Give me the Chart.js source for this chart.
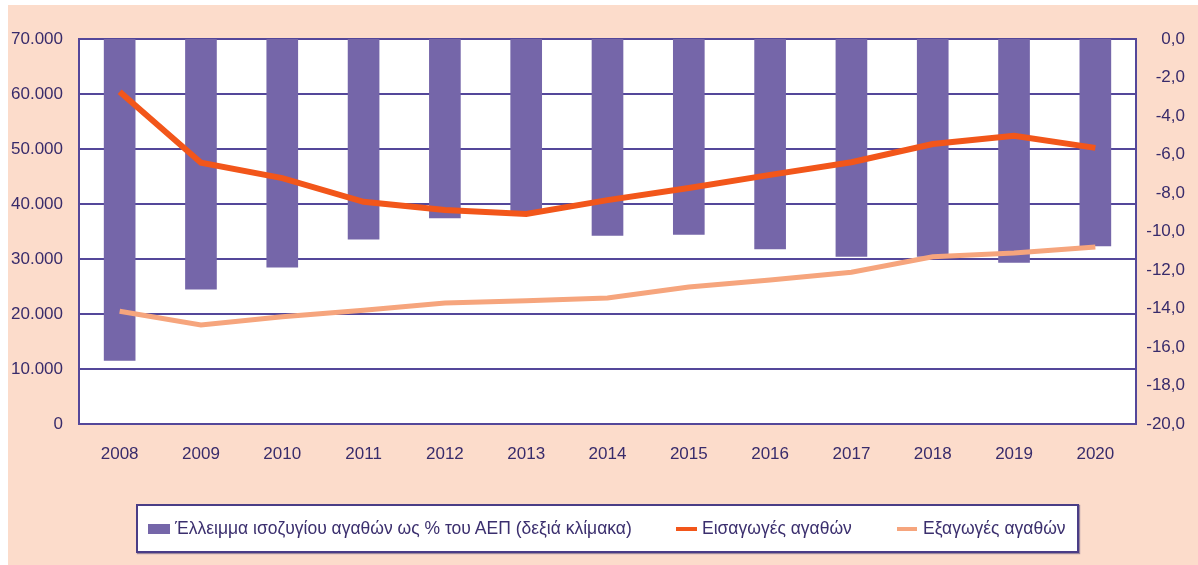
<!DOCTYPE html>
<html>
<head>
<meta charset="utf-8">
<script src="https://cdn.jsdelivr.net/npm/chart.js@4/dist/chart.umd.min.js"></script>
<style>
  body { margin: 0; background: #ffffff; }
  #wrap { position: absolute; left: 8px; top: 5px; width: 1190px; height: 560px; background: #fcdccb; }
  #chart { position: absolute; left: 0; top: 0; }
  #legend {
    position: absolute; left: 128px; top: 499px; width: 943px; height: 49px;
    box-sizing: border-box; background: #fff; border: 2px solid #4a3d86;
    box-shadow: 1px 1px 1px rgba(60,50,110,0.5);
    font-family: "Liberation Sans", Arial, sans-serif; font-size: 17.5px; color: #3b2f6e;
  }
  .item { position: absolute; top: 0; height: 45px; display: flex; align-items: center; white-space: nowrap; }
  .mark { display: inline-block; }
</style>
</head>
<body>
<div id="wrap">
  <canvas id="chart" width="1190" height="560"></canvas>
  <div id="legend"></div>
</div>
<script>
const years = ['2008','2009','2010','2011','2012','2013','2014','2015','2016','2017','2018','2019','2020'];
// Έλλειμμα ισοζυγίου αγαθών ως % του ΑΕΠ (right scale)
const deficitPct = [-16.7, -13.0, -11.85, -10.4, -9.3, -9.0, -10.2, -10.15, -10.9, -11.3, -11.3, -11.6, -10.75];
// Εισαγωγές αγαθών
const imports = [60400, 47500, 44700, 40400, 38900, 38200, 40700, 42900, 45300, 47600, 50900, 52400, 50200];
// Εξαγωγές αγαθών
const exportsData = [20500, 18000, 19500, 20700, 22000, 22400, 22900, 24900, 26200, 27600, 30400, 31100, 32200];

const textColor = '#382b6b';
const gridColor = '#54479a';
const tickFont = { family: 'Liberation Sans, Arial, sans-serif', size: 17 };

const plotBg = {
  id: 'plotBg',
  beforeDraw(chart) {
    const a = chart.chartArea, ctx = chart.ctx;
    ctx.save();
    ctx.fillStyle = '#ffffff';
    ctx.fillRect(a.left, a.top, a.right - a.left, a.bottom - a.top);
    ctx.restore();
  }
};

const chart = new Chart(document.getElementById('chart'), {
  type: 'bar',
  data: {
    labels: years,
    datasets: [
      {
        type: 'line',
        label: 'Εισαγωγές αγαθών',
        data: imports,
        yAxisID: 'y',
        borderColor: '#f2561a',
        backgroundColor: '#f2561a',
        borderWidth: 6,
        pointRadius: 0,
        tension: 0,
        order: 1
      },
      {
        type: 'line',
        label: 'Εξαγωγές αγαθών',
        data: exportsData,
        yAxisID: 'y',
        borderColor: '#f6a57d',
        backgroundColor: '#f6a57d',
        borderWidth: 5,
        pointRadius: 0,
        tension: 0,
        order: 2
      },
      {
        label: 'Έλλειμμα ισοζυγίου αγαθών ως % του ΑΕΠ (δεξιά κλίμακα)',
        data: deficitPct,
        yAxisID: 'y1',
        backgroundColor: '#7566a9',
        barThickness: 31,
        order: 3
      }
    ]
  },
  options: {
    responsive: false,
    animation: false,
    layout: { padding: { top: 34, bottom: 101, left: 0, right: 13 } },
    plugins: { legend: { display: false }, tooltip: { enabled: false } },
    scales: {
      x: {
        grid: { display: false, drawTicks: false },
        border: { display: false },
        ticks: { color: textColor, font: tickFont, padding: 20 },
        afterFit(s) { s.height = 40; }
      },
      y: {
        position: 'left',
        min: 0, max: 70000,
        ticks: {
          stepSize: 10000, color: textColor, font: tickFont, padding: 16,
          callback: v => String(v).replace(/\B(?=(\d{3})+(?!\d))/g, '.')
        },
        grid: { color: gridColor, lineWidth: 2, drawTicks: false },
        border: { display: true, color: gridColor, width: 2 },
        afterFit(s) { s.width = 71; }
      },
      y1: {
        position: 'right',
        min: -20, max: 0,
        ticks: {
          stepSize: 2, color: textColor, font: tickFont, padding: 0, crossAlign: 'far',
          callback: v => Number(v).toFixed(1).replace('.', ',')
        },
        grid: { display: false, drawTicks: false },
        border: { display: true, color: gridColor, width: 2 },
        afterFit(s) { s.width = 49; }
      }
    }
  },
  plugins: [plotBg]
});

// legend built from the chart's datasets
const legendEl = document.getElementById('legend');
const ds = chart.data.datasets;
const legendItems = [
  { d: ds[2], left: 10, mark: 'box', w: 22, h: 10, gap: 5 },
  { d: ds[0], left: 538, mark: 'line', w: 21, h: 4, gap: 5 },
  { d: ds[1], left: 759, mark: 'line', w: 20, h: 4, gap: 6 }
];
legendItems.forEach(it => {
  const el = document.createElement('div');
  el.className = 'item';
  el.style.left = it.left + 'px';
  const m = document.createElement('span');
  m.className = 'mark';
  m.style.width = it.w + 'px';
  m.style.height = it.h + 'px';
  m.style.marginRight = it.gap + 'px';
  m.style.background = it.mark === 'box' ? it.d.backgroundColor : it.d.borderColor;
  el.appendChild(m);
  el.appendChild(document.createTextNode(it.d.label));
  legendEl.appendChild(el);
});
</script>
</body>
</html>
